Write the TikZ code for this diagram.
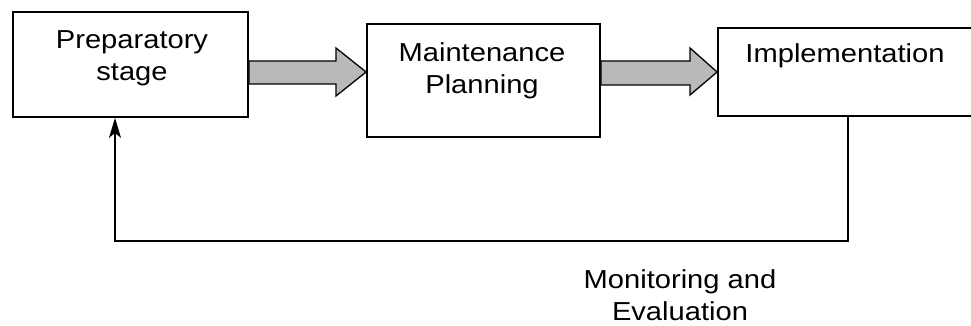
\documentclass[tikz,border=0pt]{standalone}
\usepackage{fontspec}
\setmainfont{Liberation Sans}[FakeStretch=1.12]
\usetikzlibrary{arrows.meta,calc}
\begin{document}
\begin{tikzpicture}[x=1pt,y=-1pt,
  box/.style={draw=black,line width=1.8pt,fill=white,inner sep=0pt},
  lbl/.style={font=\fontsize{26}{32}\selectfont,align=center,inner sep=0pt},
  blockarrow/.style={draw=black,line width=1.3pt,fill=gray!55,line join=miter},
  fb/.style={draw=black,line width=1.5pt,-{Stealth[length=20pt,width=12pt,inset=5pt]}}]
\useasboundingbox (0,0) rectangle (971,326);
\clip (0,0) rectangle (971,326);
\node[box,minimum width=235pt,minimum height=105pt] (b1) at (130.5,64.5) {};
\node[lbl] (t1) at (132,58) {Preparatory\\stage};
\node[box,minimum width=233pt,minimum height=113pt] (b2) at (483.5,80.5) {};
\node[lbl] (t2) at (482,71) {Maintenance\\Planning};
\node[box,minimum width=282pt,minimum height=88pt] (b3) at (859,72) {};
\node[lbl] (t3) at (845,56) {Implementation};
% block arrows
\draw[blockarrow] (b1.east |- 0,61) -- (336,61) -- (336,48) -- (b2.west |- 0,72)
  -- (336,96) -- (336,84) -- (b1.east |- 0,84) -- cycle;
\draw[blockarrow] (b2.east |- 0,61) -- (690,61) -- (690,48) -- (b3.west |- 0,72)
  -- (690,95) -- (690,85) -- (b2.east |- 0,85) -- cycle;
% feedback
\coordinate (c1) at (848,241);
\coordinate (c2) at (115,241);
\draw[fb] (b3.south -| c1) -- (c1) -- (c2) -- (b1.south -| c2);
\node[lbl] (t4) at (680,295) {Monitoring and\\Evaluation};
\end{tikzpicture}
\end{document}
